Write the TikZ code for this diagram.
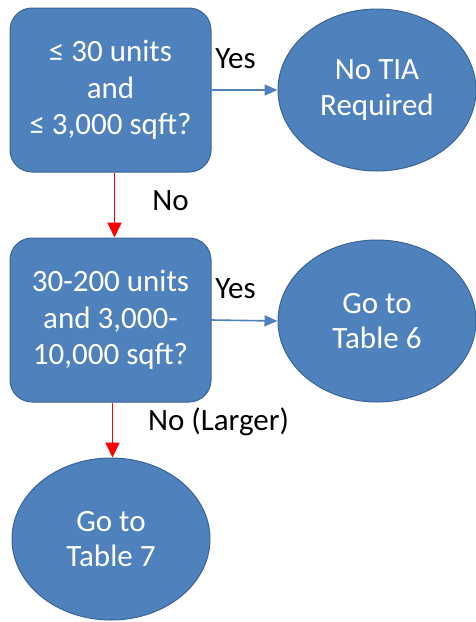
\documentclass[tikz,border=0pt]{standalone}
\usepackage{fontspec}
\setmainfont{Carlito}
\usetikzlibrary{shapes.geometric,arrows.meta}

\definecolor{shapefill}{HTML}{4F81BD}
\definecolor{shapeedge}{HTML}{3B6496}
\definecolor{noline}{HTML}{FF0000}

\tikzset{
  question/.style={rectangle, rounded corners=22pt, draw=shapeedge, line width=1pt,
    fill=shapefill, minimum width=201pt, minimum height=164pt, inner sep=0pt,
    align=center, text=white, font=\fontsize{31}{36.5}\selectfont},
  outcome/.style={ellipse, draw=shapeedge, line width=1pt, fill=shapefill,
    minimum width=198pt, minimum height=162pt, inner sep=0pt,
    align=center, text=white, font=\fontsize{31}{35.5}\selectfont},
  yesarrow/.style={draw=shapefill, line width=1.6pt,
    -{Triangle[length=13pt,width=11pt]}},
  noarrow/.style={draw=noline, line width=1.8pt,
    -{Triangle[length=15pt,width=14pt]}},
  edgelabel/.style={text=black, font=\fontsize{31}{36}\selectfont, inner sep=0pt,
    anchor=base}
}

\begin{document}
\begin{tikzpicture}[x=1pt,y=-1pt]
  \useasboundingbox (0,0) rectangle (476,622);

  % decision boxes
  \node[question] (q1) at (110.5,90) {≤ 30 units\\and\\≤ 3,000 sqft?};
  \node[question] (q2) at (110.5,320) {30-200 units\\and 3,000-\\10,000 sqft?};

  % outcomes
  \node[outcome] (o1) at (377,90)  {No TIA\\Required};
  \node[outcome] (o2) at (377,321) {Go to\\Table 6};
  \node[outcome] (o3) at (111,539) {Go to\\Table 7};

  % "yes" branches
  \draw[yesarrow] (q1.east) -- (o1.west);
  \draw[yesarrow] (q2.east) -- (o2.west);

  % "no" branches
  \draw[noarrow] ([xshift=4pt]q1.south) -- ([xshift=4pt]q1.south |- q2.north);
  \draw[noarrow] ([xshift=2pt]q2.south) -- ([xshift=2pt]q2.south |- o3.north);

  % branch labels
  \node[edgelabel] (l1) at (235.5,68)  {Yes};
  \node[edgelabel] (l2) at (235.5,298) {Yes};
  \node[edgelabel] (l3) at (170.5,210) {No};
  \node[edgelabel] (l4) at (218.5,430) {No (Larger)};
\end{tikzpicture}
\end{document}
